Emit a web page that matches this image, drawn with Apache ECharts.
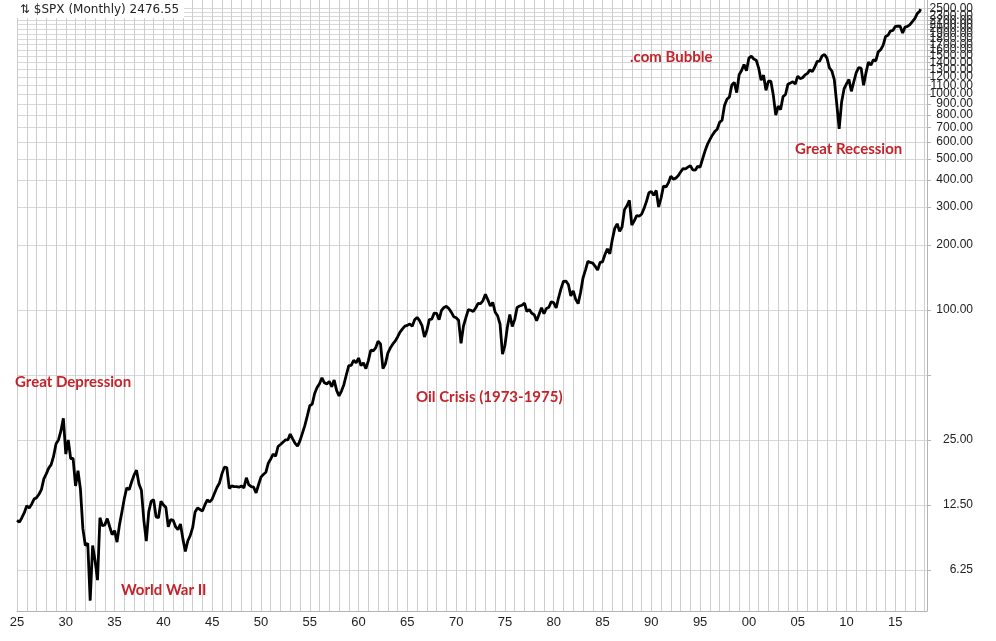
<!DOCTYPE html>
<html lang="en">
<head>
<meta charset="utf-8">
<title>$SPX (Monthly)</title>
<script src="https://cdn.jsdelivr.net/npm/echarts@6/dist/echarts.min.js"></script>
<style>
  html, body { margin: 0; padding: 0; background: #fff; }
  #main { width: 996px; height: 641px; }
</style>
</head>
<body>
<div id="main"></div>
<script>
  // S&P 500: opening value, then quarter-end levels per year
  var firstYear = 1925;
  var openValue = 10.6;
  var quarterCloses = [
    [10.4, 10.9, 11.5, 12.4],       // 1925
    [12.1, 12.6, 13.3, 13.5],
    [14.0, 14.7, 16.5, 17.4],
    [18.5, 19.2, 21.0, 24.0],
    [25.0, 27.5, 31.5, 21.5],
    [25.0, 20.5, 20.5, 15.3],       // 1930
    [18.0, 14.8, 9.7, 8.1],
    [8.3, 4.5, 8.1, 6.9],
    [5.6, 10.9, 10.0, 10.1],
    [10.8, 9.9, 9.1, 9.5],
    [8.4, 10.1, 11.6, 13.4],        // 1935
    [15.0, 14.7, 16.0, 17.2],
    [18.1, 15.6, 14.6, 10.6],
    [8.5, 11.6, 13.0, 13.2],
    [11.0, 10.9, 13.0, 12.5],
    [12.2, 9.9, 10.7, 10.6],        // 1940
    [9.9, 9.6, 10.2, 8.7],
    [7.6, 8.5, 9.0, 9.8],
    [11.6, 12.1, 11.9, 11.7],
    [12.5, 13.2, 12.9, 13.3],
    [14.2, 15.1, 15.8, 17.4],       // 1945
    [18.7, 18.6, 14.9, 15.3],
    [15.2, 15.2, 15.1, 15.3],
    [15.0, 16.7, 15.5, 15.2],
    [15.1, 14.2, 15.5, 16.8],
    [17.3, 17.7, 19.5, 20.4],       // 1950
    [21.5, 21.0, 23.3, 23.8],
    [24.4, 25.0, 25.0, 26.6],
    [25.3, 24.1, 23.4, 24.8],
    [26.9, 29.2, 32.3, 36.0],
    [36.6, 41.0, 43.7, 45.5],       // 1955
    [48.5, 46.0, 45.4, 46.7],
    [44.1, 47.4, 42.4, 40.0],
    [42.1, 45.2, 50.1, 55.2],
    [55.4, 58.5, 56.9, 59.9],
    [55.3, 56.9, 53.5, 58.1],       // 1960
    [65.1, 64.6, 66.7, 71.6],
    [69.6, 53.5, 56.3, 63.1],
    [66.6, 69.4, 71.7, 75.0],
    [78.9, 81.7, 84.2, 84.8],
    [86.2, 84.1, 90.0, 92.4],       // 1965
    [89.2, 84.7, 75.0, 80.3],
    [90.2, 90.6, 96.7, 96.5],
    [90.2, 99.6, 102.7, 103.9],
    [101.5, 97.7, 93.1, 92.1],
    [89.6, 70.0, 84.2, 92.2],       // 1970
    [100.3, 99.7, 98.3, 102.1],
    [107.2, 107.1, 110.6, 118.1],
    [111.5, 104.3, 108.4, 97.6],
    [94.0, 86.0, 62.5, 68.6],
    [83.4, 95.2, 83.9, 90.2],       // 1975
    [102.8, 104.3, 105.2, 107.5],
    [98.4, 100.5, 96.5, 95.1],
    [89.2, 95.5, 102.5, 96.1],
    [101.6, 102.9, 109.3, 107.9],
    [102.1, 114.2, 125.5, 135.8],   // 1980
    [136.0, 131.2, 116.2, 122.6],
    [112.0, 107.0, 120.4, 140.6],
    [153.0, 168.1, 166.1, 164.9],
    [159.2, 153.2, 166.1, 167.2],
    [180.7, 191.9, 182.1, 211.3],   // 1985
    [238.9, 250.8, 231.3, 242.2],
    [291.7, 304.0, 321.8, 247.1],
    [258.9, 273.5, 271.9, 277.7],
    [294.9, 318.0, 349.2, 353.4],
    [339.9, 358.0, 300.0, 330.2],   // 1990
    [375.2, 371.2, 387.9, 417.1],
    [403.7, 408.1, 418.5, 435.7],
    [451.7, 450.5, 458.9, 466.5],
    [445.8, 444.3, 462.7, 459.3],
    [500.7, 544.8, 584.4, 615.9],   // 1995
    [645.5, 670.6, 687.3, 740.7],
    [757.1, 885.1, 947.3, 970.4],
    [1101.8, 1133.8, 1017.0, 1229.2],
    [1286.4, 1372.7, 1282.7, 1469.3],
    [1498.6, 1454.6, 1436.5, 1320.3], // 2000
    [1160.3, 1224.4, 1040.9, 1148.1],
    [1147.4, 989.8, 800.0, 879.8],
    [848.2, 974.5, 996.0, 1111.9],
    [1126.2, 1140.8, 1114.6, 1211.9],
    [1180.6, 1191.3, 1228.8, 1248.3], // 2005
    [1294.9, 1270.2, 1335.9, 1418.3],
    [1420.9, 1503.4, 1526.8, 1468.4],
    [1322.7, 1280.0, 1166.4, 903.3],
    [690.0, 919.3, 1057.1, 1115.1],
    [1169.4, 1030.7, 1141.2, 1257.6], // 2010
    [1325.8, 1320.6, 1100.0, 1257.6],
    [1408.5, 1362.2, 1440.7, 1426.2],
    [1569.2, 1606.3, 1681.6, 1848.4],
    [1872.3, 1960.2, 1972.3, 2058.9],
    [2067.9, 2063.1, 1920.0, 2043.9], // 2015
    [2059.7, 2098.9, 2168.3, 2238.8],
    [2362.7, 2423.4]                  // 2017
  ];
  var lastPoint = [2017.6, 2476.55];

  var gridValues = [6.25, 12.5, 25, 50, 100, 200, 300, 400, 500, 600, 700, 800, 900, 1000,
    1100, 1200, 1300, 1400, 1500, 1600, 1700, 1800, 1900, 2000, 2100, 2200, 2300, 2400, 2500];
  var yLabels = [6.25, 12.5, 25, 100, 200, 300, 400, 500, 600, 700, 800, 900, 1000,
    1100, 1200, 1300, 1400, 1500, 1600, 1700, 1800, 1900, 2000, 2100, 2200, 2300, 2400, 2500];
  var xLabels = [1925, 1930, 1935, 1940, 1945, 1950, 1955, 1960, 1965, 1970,
    1975, 1980, 1985, 1990, 1995, 2000, 2005, 2010, 2015];

  var notes = [
    { text: 'Great Depression', x: 15, y: 382 },
    { text: '.com Bubble', x: 630, y: 57 },
    { text: 'Great Recession', x: 795, y: 149 },
    { text: 'Oil Crisis (1973-1975)', x: 416, y: 397 },
    { text: 'World War II', x: 121, y: 590 }
  ];

  var points = [[firstYear, openValue]];
  quarterCloses.forEach(function (row, i) {
    row.forEach(function (v, q) {
      points.push([firstYear + i + (q + 1) / 4, v]);
    });
  });
  points.push(lastPoint);

  var yearTicks = [];
  for (var y = 1925; y <= 2018; y++) yearTicks.push(y);

  var chart = echarts.init(document.getElementById('main'));

  var graphics = notes.map(function (n) {
    return {
      type: 'text', x: n.x, y: n.y, z: 10,
      style: {
        text: n.text, fill: '#c4232b', font: 'bold 15px Lato',
        align: 'left', verticalAlign: 'middle'
      }
    };
  });
  graphics.push({
    type: 'rect', shape: { x: 17, y: 0, width: 167, height: 18 },
    style: { fill: '#fff' }, z: 10
  });
  graphics.push({
    type: 'text', x: 20, y: 10, z: 11,
    style: {
      text: '⇅ $SPX (Monthly) 2476.55', fill: '#222', font: '12px "DejaVu Sans"',
      align: 'left', verticalAlign: 'middle'
    }
  });

  chart.setOption({
    animation: false,
    backgroundColor: '#fff',
    grid: { left: 17, right: 69, top: 0, bottom: 30 },
    xAxis: {
      type: 'value', min: 1925, max: 2018.25,
      axisLine: { show: true, lineStyle: { color: '#b4b4b4' } },
      axisTick: { show: false, customValues: yearTicks },
      axisLabel: {
        customValues: xLabels, margin: 5, color: '#222', fontSize: 13,
        fontFamily: 'Liberation Sans', showMinLabel: true,
        formatter: function (v) { return String(v % 100).padStart(2, '0'); }
      },
      splitLine: { show: true, lineStyle: { color: '#cdcdcd', width: 1 } }
    },
    yAxis: {
      type: 'log', logBase: 10, position: 'right', min: 4.03, max: 2730,
      axisLine: { show: true, lineStyle: { color: '#b4b4b4' } },
      axisTick: { show: true, length: 4, customValues: gridValues, lineStyle: { color: '#b4b4b4' } },
      axisLabel: {
        customValues: yLabels, align: 'right', margin: 46, color: '#222', fontSize: 12,
        fontFamily: 'Liberation Sans', showMinLabel: true, showMaxLabel: true,
        formatter: function (v) { return Number(v).toFixed(2); }
      },
      splitLine: { show: true, lineStyle: { color: '#d8d8d8', width: 1 } }
    },
    series: [{
      type: 'line', data: points, showSymbol: false,
      lineStyle: { color: '#000', width: 2.8 }
    }],
    graphic: graphics
  });
</script>
</body>
</html>
